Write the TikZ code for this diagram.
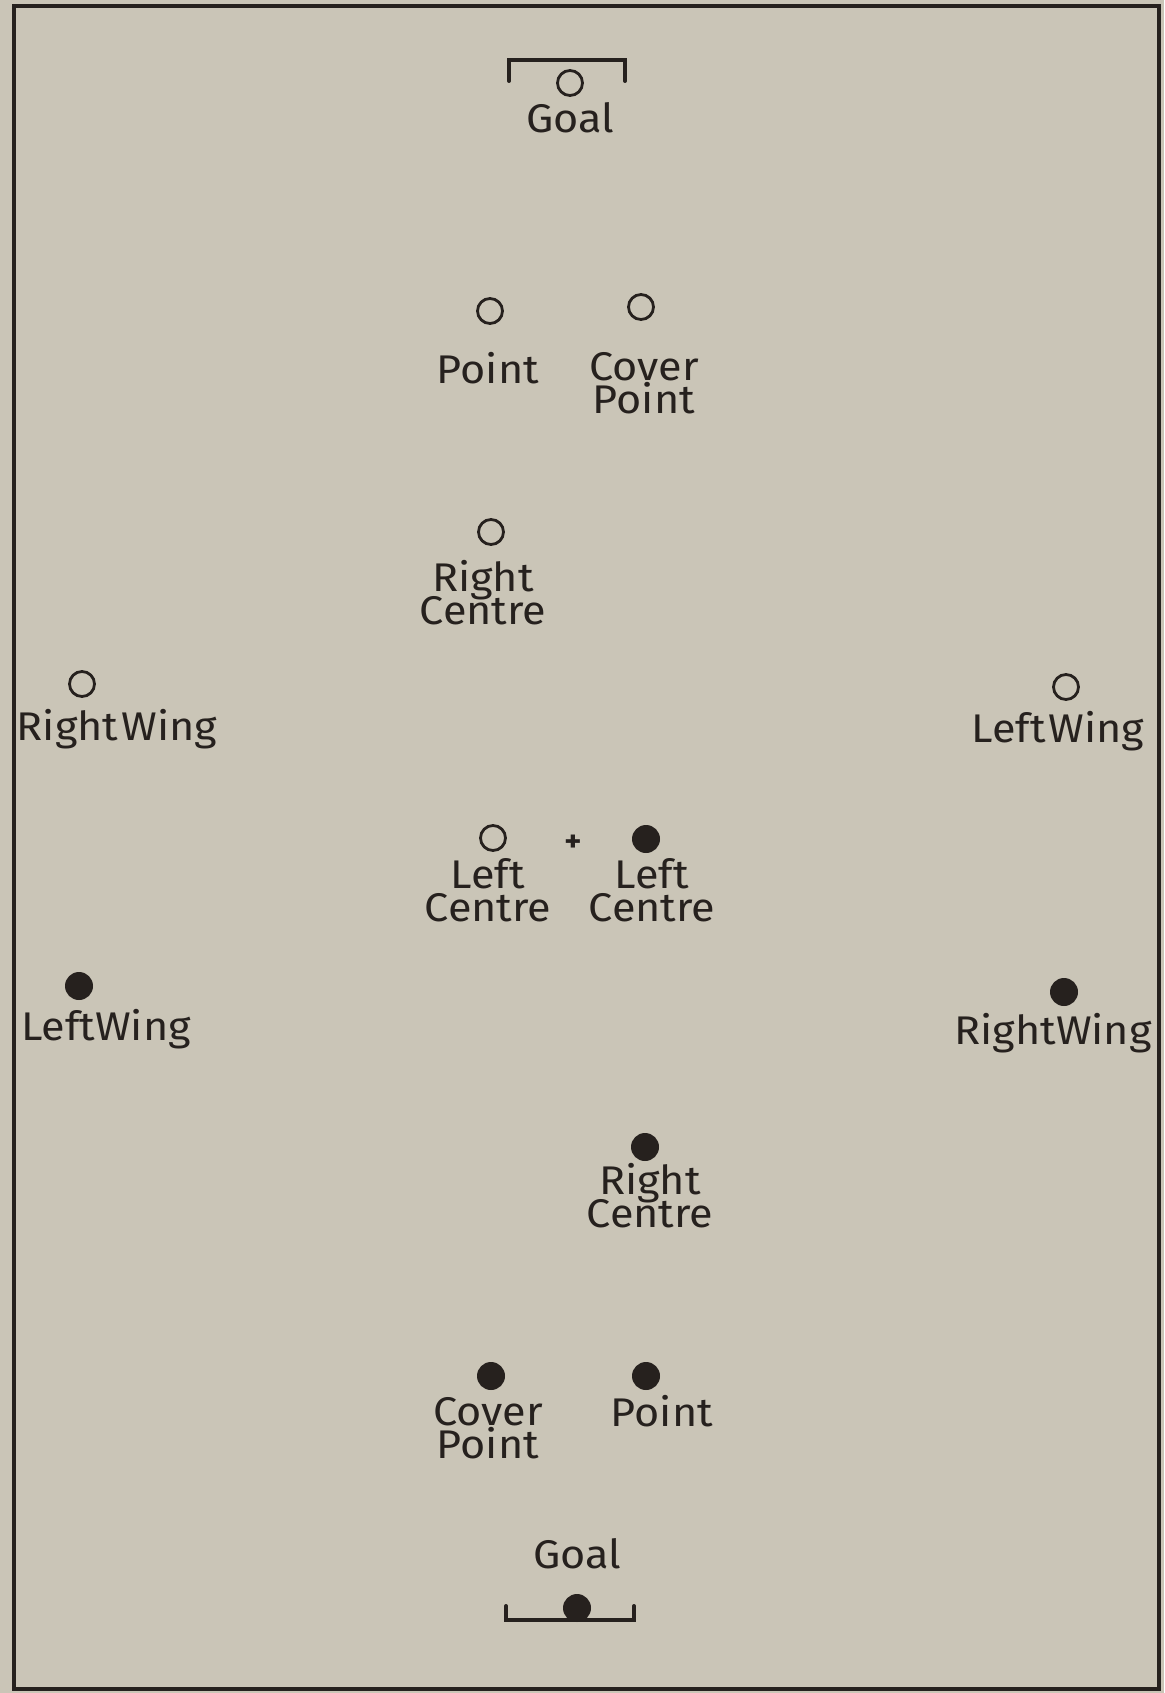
\documentclass[tikz,border=0pt]{standalone}
\usepackage{fontspec}
\setmainfont{Fira Sans}[FakeStretch=1.08]
\definecolor{paper}{RGB}{202,197,183}
\definecolor{ink}{RGB}{38,33,30}
\newcommand\twolinefont{\fontsize{40}{33}\selectfont\lineskiplimit-60pt\relax}
\begin{document}
\begin{tikzpicture}[x=1pt,y=-1pt,
  hollow/.style={circle,draw=ink,line width=2.8pt,minimum size=25pt,inner sep=0pt},
  solid/.style={circle,fill=ink,minimum size=28pt,inner sep=0pt},
  lbl/.style={text=ink,anchor=base,font=\fontsize{40}{32}\selectfont,inner sep=0pt,text height=27pt,text depth=0pt},
  lbltwo/.style={text=ink,align=center,font=\twolinefont,inner sep=0pt},
  frame/.style={draw=ink,line width=4pt},
  goalline/.style={draw=ink,line width=4pt,line cap=round}]
\fill[paper] (0,0) rectangle (1164,1693);
\useasboundingbox (0,0) rectangle (1164,1693);
\draw[frame] (14,6) rectangle (1159,1689);
% top goal
\draw[goalline] (509,81) -- (509,60) -- (625,60) -- (625,81);
\node[hollow] (tgoal) at (570,83) {};
\node[lbl] (tgoalt) at (570,133) {Goal};
% top team (hollow)
\node[hollow] (tpoint) at (490,311) {};
\node[lbl] (tpointt) at (488,383) {Point};
\node[hollow] (tcover) at (641,307) {};
\node[lbltwo] (tcovert) at (644,383) {Cover\\Point};
\node[hollow] (trc) at (491,532) {};
\node[lbltwo] (trct) at (483,593) {Right\\Centre};
\node[hollow] (trw) at (82,684) {};
\node[lbl] (trwt) at (117,740) {Right\hspace{3pt}Wing};
\node[hollow] (tlw) at (1066,687) {};
\node[lbl] (tlwt) at (1058,742) {Left\hspace{3pt}Wing};
\node[hollow] (tlc) at (493,838) {};
\node[lbltwo] (tlct) at (488,890) {Left\\Centre};
% centre mark
\node[text=ink,font=\fontsize{30}{30}\selectfont\bfseries,inner sep=0pt] (centre) at (573,843) {+};
% bottom team (solid)
\node[solid] (blc) at (646,839) {};
\node[lbltwo] (blct) at (652,890) {Left\\Centre};
\node[solid] (blw) at (79,986) {};
\node[lbl] (blwt) at (106,1040) {LeftWing};
\node[solid] (brw) at (1064,992) {};
\node[lbl] (brwt) at (1053,1044) {RightWing};
\node[solid] (brc) at (645,1147) {};
\node[lbltwo] (brct) at (650,1196) {Right\\Centre};
\node[solid] (bcover) at (491,1376) {};
\node[lbltwo] (bcovert) at (488,1428) {Cover\\Point};
\node[solid] (bpoint) at (646,1376) {};
\node[lbl] (bpointt) at (662,1426) {Point};
% bottom goal
\node[lbl] (bgoalt) at (577,1568) {Goal};
\node[solid] (bgoal) at (577,1608) {};
\draw[goalline] (506,1606) -- (506,1620) -- (634,1620) -- (634,1606);
\end{tikzpicture}
\end{document}
